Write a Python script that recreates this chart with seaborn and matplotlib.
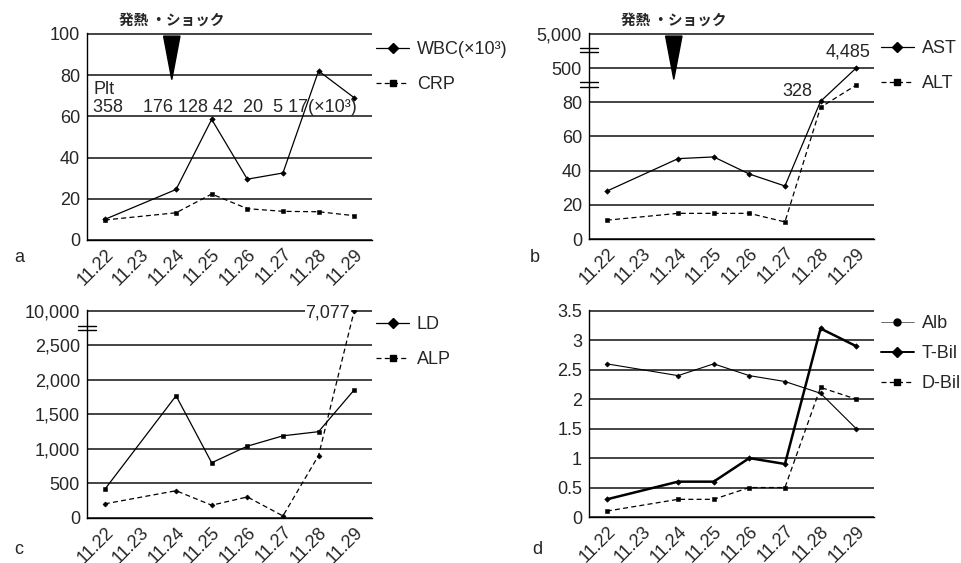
import numpy as np
import pandas as pd
import matplotlib
matplotlib.use("Agg")
import matplotlib.pyplot as plt
import seaborn as sns
from matplotlib.lines import Line2D

# ---------------- data ----------------
dates = ["11.22", "11.23", "11.24", "11.25", "11.26", "11.27", "11.28", "11.29"]
sample_dates = ["11.22", "11.24", "11.25", "11.26", "11.27", "11.28", "11.29"]
shock_date = "11.24"
header_text = "発熱 ・ショック"

# panel a
wbc = [10, 24.5, 58.5, 29.5, 32.5, 82, 69]
crp = [9.7, 13.2, 22.3, 15.2, 13.9, 13.7, 11.8]
plt_counts = ["358", "176", "128", "42", "20", "5", "17"]
a_ticks = [0, 20, 40, 60, 80, 100]
a_ticklabels = ["0", "20", "40", "60", "80", "100"]

# panel b (broken axis: values are plotted positions)
ast_pos = [28, 47, 48, 38, 31, 80.5, 100]
alt_pos = [11, 15, 15, 15, 10, 77, 90]
b_ticks = [0, 20, 40, 60, 80, 100, 120]
b_ticklabels = ["0", "20", "40", "60", "80", "500", "5,000"]
b_notes = {"11.28": "328", "11.29": "4,485"}

# panel c (broken axis: values are plotted positions)
c_solid = [415, 1770, 800, 1040, 1190, 1250, 1855]
c_dashed = [205, 395, 185, 305, 30, 905, 3000]
c_ticks = [0, 500, 1000, 1500, 2000, 2500, 3000]
c_ticklabels = ["0", "500", "1,000", "1,500", "2,000", "2,500", "10,000"]
c_note = "7,077"

# panel d
alb = [2.6, 2.4, 2.6, 2.4, 2.3, 2.1, 1.5]
tbil = [0.3, 0.6, 0.6, 1.0, 0.9, 3.2, 2.9]
dbil = [0.1, 0.3, 0.3, 0.5, 0.5, 2.2, 2.0]
d_ticks = [0, 0.5, 1, 1.5, 2, 2.5, 3, 3.5]
d_ticklabels = ["0", "0.5", "1", "1.5", "2", "2.5", "3", "3.5"]

# ---------------- style ----------------
sns.set_style("white")
plt.rcParams["font.family"] = ["Liberation Sans", "DejaVu Sans"]
plt.rcParams["axes.linewidth"] = 1.0
FS = 13
JP = ["Noto Sans CJK JP", "DejaVu Sans"]

W, H = 962, 563
fig = plt.figure(figsize=(W / 100, H / 100), dpi=100)


def px_axes(left, top, right, bottom):
    return fig.add_axes([left / W, 1 - bottom / H, (right - left) / W, (bottom - top) / H])


idx = [dates.index(d) for d in sample_dates]
DASH = (0, (4, 2.6))


def style(ax, ticks, labels):
    ax.set_xlim(-0.5, 7.5)
    ax.set_ylim(0, ticks[-1] * 1.004)
    ax.set_yticks(ticks)
    ax.set_yticklabels(labels, fontsize=FS)
    ax.set_xticks(range(len(dates)))
    ax.set_xticklabels(dates, rotation=45, ha="right", va="top",
                       rotation_mode="anchor", fontsize=FS)
    ax.set_xticks(np.arange(-0.5, len(dates), 1), minor=True)
    ax.tick_params(axis="x", which="major", length=0, pad=4)
    ax.tick_params(axis="x", which="minor", direction="in", length=4, width=1, color="black")
    ax.tick_params(axis="y", length=0, pad=5)
    for t in ticks:
        ax.axhline(t, color="#111111", lw=1.1, zorder=1)
    for s in ["top", "right"]:
        ax.spines[s].set_visible(False)
    for s in ["left", "bottom"]:
        ax.spines[s].set_color("black")


def line(ax, y, marker, ms, ls="-", lw=0.9):
    df = pd.DataFrame({"day": idx, "v": y})
    sns.lineplot(data=df, x="day", y="v", ax=ax, color="black", marker=marker,
                 markersize=ms, markeredgecolor="black", markeredgewidth=0.4,
                 linestyle=ls, linewidth=lw, errorbar=None, zorder=3)
    ax.set_xlabel("")
    ax.set_ylabel("")


def legend(ax, handles, labels, anchor, spacing):
    ax.legend(handles, labels, loc="upper left", bbox_to_anchor=anchor, frameon=False,
              fontsize=FS, handlelength=1.8, handletextpad=0.45, borderpad=0,
              borderaxespad=0, labelspacing=spacing)


def shock(ax):
    x0 = dates.index(shock_date) - 0.12
    tr = ax.get_xaxis_transform()
    ax.fill([x0 - 0.23, x0 + 0.23, x0], [0.985, 0.985, 0.775], color="black",
            transform=tr, zorder=5, clip_on=False)
    ax.text(x0, 1.065, header_text, transform=tr, ha="center", va="center",
            fontsize=10.5, fontweight="bold", family=JP)


def brk(ax, yfrac):
    tr = ax.transAxes
    for dy in (-0.011, 0.011):
        ax.plot([-0.03, 0.03], [yfrac + dy, yfrac + dy], color="black", lw=1.0,
                transform=tr, clip_on=False, zorder=6)


def h(marker, ls="-", lw=0.9, ms=5, color="black"):
    return Line2D([], [], color=color, marker=marker, markersize=ms, linestyle=ls,
                  linewidth=lw, markerfacecolor="black", markeredgecolor="black")


# ---------------- panel a ----------------
ax = px_axes(87, 33, 372, 240)
style(ax, a_ticks, a_ticklabels)
line(ax, wbc, "D", 2.8)
line(ax, crp, "s", 3.2, DASH)
shock(ax)
ax.text(-0.33, 73, "Plt", fontsize=FS, ha="left", va="center")
ax.text(-0.33, 64.5, plt_counts[0] + "    " + " ".join(plt_counts[1:4])
        + "  " + plt_counts[4] + "  " + plt_counts[5] + " " + plt_counts[6] + "(×10³)",
        fontsize=FS, ha="left", va="center")
legend(ax, [h("D"), h("s", DASH)], ["WBC(×10³)", "CRP"], (1.015, 0.96), 1.0)
fig.text(14 / W, 1 - 258 / H, "a", fontsize=FS, ha="left", va="center")

# ---------------- panel b ----------------
ax = px_axes(589, 33, 874, 239)
style(ax, b_ticks, b_ticklabels)
line(ax, ast_pos, "D", 2.8)
line(ax, alt_pos, "s", 3.2, DASH)
shock(ax)
for d, txt in b_notes.items():
    k = sample_dates.index(d)
    xi = idx[k]
    if txt == "4,485":
        ax.text(xi - 0.22, ast_pos[k] + 9.5, txt, fontsize=FS, ha="center", va="center")
    else:
        ax.text(xi - 0.65, ast_pos[k] + 6, txt, fontsize=FS, ha="center", va="center")
brk(ax, 110 / 120)
brk(ax, 90 / 120)
legend(ax, [h("D"), h("s", DASH)], ["AST", "ALT"], (1.025, 0.965), 1.0)
fig.text(530 / W, 1 - 258 / H, "b", fontsize=FS, ha="left", va="center")

# ---------------- panel c ----------------
ax = px_axes(87, 310, 372, 518)
style(ax, c_ticks, c_ticklabels)
line(ax, c_solid, "s", 3.2)
line(ax, c_dashed, "D", 2.6, DASH)
ax.text(idx[-1] - 0.12, c_dashed[-1] - 30, c_note, fontsize=FS, ha="right", va="center",
        bbox=dict(facecolor="white", edgecolor="none", pad=0.5), zorder=4)
brk(ax, 2740 / 3000)
legend(ax, [h("D"), h("s", DASH)], ["LD", "ALP"], (1.015, 0.97), 1.0)
fig.text(14 / W, 1 - 550 / H, "c", fontsize=FS, ha="left", va="center")

# ---------------- panel d ----------------
ax = px_axes(589, 310, 874, 517)
style(ax, d_ticks, d_ticklabels)
line(ax, alb, "D", 2.6, "-", 0.8)
line(ax, tbil, "D", 2.8, "-", 1.8)
line(ax, dbil, "s", 3.2, DASH)
legend(ax, [h("o", "-", 0.6, color="#555555"), h("D", "-", 1.4), h("s", DASH)],
       ["Alb", "T-Bil", "D-Bil"], (1.025, 0.975), 0.72)
fig.text(532 / W, 1 - 550 / H, "d", fontsize=FS, ha="left", va="center")

fig.savefig("out.png", dpi=100)
